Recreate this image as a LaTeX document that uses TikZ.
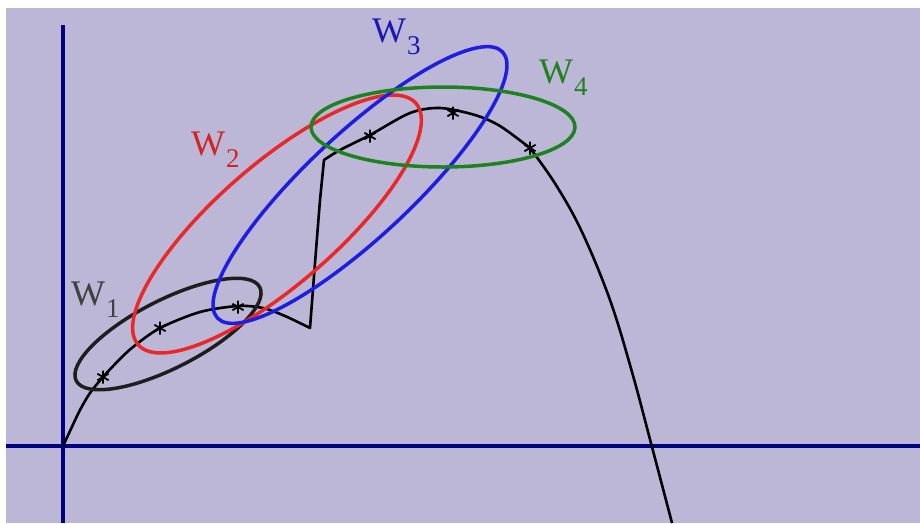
\documentclass[tikz,border=0pt]{standalone}
\usepackage{fontspec}
\setmainfont{Liberation Serif}
\usetikzlibrary{plotmarks}
\definecolor{bgpurple}{RGB}{188,183,215}
\definecolor{axisblue}{RGB}{0,0,128}
\definecolor{winred}{RGB}{235,40,40}
\definecolor{winblue}{RGB}{30,30,225}
\definecolor{wingreen}{RGB}{30,130,30}
\definecolor{winblack}{RGB}{30,30,30}
\newcommand{\wname}[1]{W\kern1pt\raisebox{-12pt}{\fontsize{27}{27}\selectfont #1}}

\begin{document}
\begin{tikzpicture}[x=1pt,y=-1pt,
  axis/.style={axisblue,line width=4pt},
  window/.style={line width=3.5pt},
  wlabel/.style={font=\fontsize{36}{36}\selectfont,inner sep=0pt,anchor=base west}]
\useasboundingbox (0,0) rectangle (920,523);
\fill[white] (0,0) rectangle (920,523);
\fill[bgpurple] (6,8) rectangle (920,523);
\draw[axis] (6,446) -- (920,446);
\draw[axis] (63,25) -- (63,523);
\draw[black,line width=2.6pt,line join=round] plot[smooth] coordinates {(63,446) (70,431) (80,410) (90,393) (103,377) (118,361) (133,347) (160,328) (200,312) (238,306) (263,308) (285,316) (310,328)} -- (315,263) -- (320,200) -- plot[smooth] coordinates {(324,160) (340,150) (370,135) (410,113) (440,108) (475,115) (500,126) (530,148)} -- plot[smooth,tension=0.6] coordinates {(530,148) (556,185) (582,232) (610,300) (632,372) (652,447) (672,523)};
\draw[black,line width=1.8pt] plot[only marks,mark=asterisk,mark size=6.5pt] coordinates {(103,377) (160,328) (238,307) (370,136) (453,113) (530,148)};
\draw[window,winblack,shift={(168,334)},rotate=27] (0,0) ellipse [x radius=103,y radius=34];
\draw[window,winred,shift={(277,224)},rotate=41] (0,0) ellipse [x radius=184,y radius=60];
\draw[window,winblue,shift={(360,185)},rotate=43] (0,0) ellipse [x radius=195,y radius=52];
\draw[window,wingreen,shift={(443,127)}] (0,0) ellipse [x radius=132,y radius=40];
\node[wlabel,text=black!75] (w1lab) at (71,305) {\wname{1}};
\node[wlabel,text=winred!90!black] (w2lab) at (191,155) {\wname{2}};
\node[wlabel,text=winblue!80!black] (w3lab) at (372,42) {\wname{3}};
\node[wlabel,text=wingreen] (w4lab) at (539,83) {\wname{4}};
\end{tikzpicture}
\end{document}
